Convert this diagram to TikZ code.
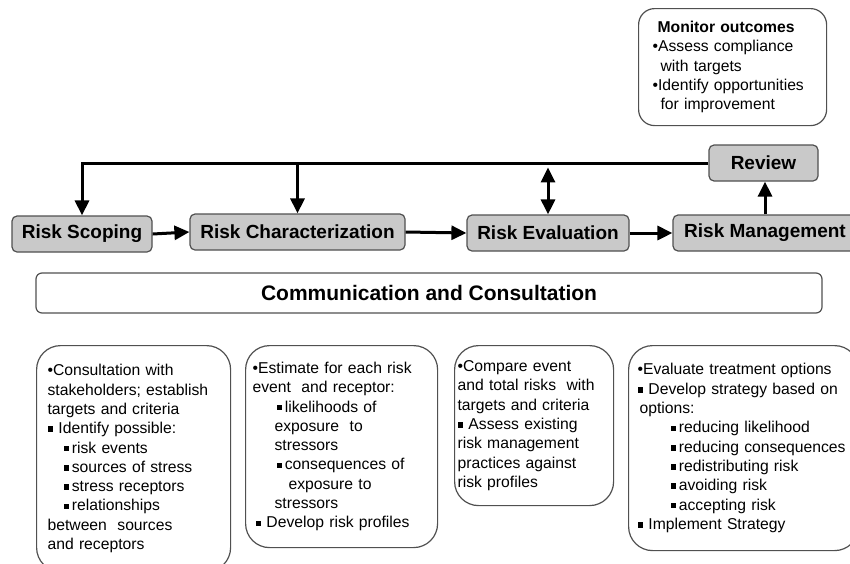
\documentclass[tikz,border=0pt]{standalone}
\usepackage{fontspec}
\setmainfont{Liberation Sans}
\usetikzlibrary{arrows.meta, positioning}
\tikzset{>={Triangle[length=15pt,width=14pt]}}
\definecolor{stagegray}{RGB}{201,201,201}
\definecolor{edgegray}{RGB}{80,80,80}
\newcommand{\sqb}{\raisebox{0.2ex}{\rule{0.36em}{0.36em}}}

\begin{document}
\begin{tikzpicture}[x=1pt, y=-1pt,
  stage/.style={draw=edgegray, line width=1.2pt, fill=stagegray, rounded corners=5pt, minimum height=36pt, inner sep=0pt, font=\fontsize{19}{22}\selectfont\bfseries},
  note/.style={draw=edgegray, line width=1.2pt, rounded corners=24pt, anchor=north west, align=left, inner ysep=0pt, font=\fontsize{15.7}{19.3}\selectfont},
  link/.style={line width=3pt}]
\useasboundingbox (0,0) rectangle (850,563);

\node[note, rounded corners=16pt, text width=160pt, inner xsep=14pt, minimum height=117pt] (monitor) at (638,8)
  {\hspace*{5pt}\textbf{Monitor outcomes}\\ \textbullet Assess compliance\\ \hspace*{8pt}with targets\\ \textbullet Identify opportunities\\ \hspace*{8pt}for improvement};

\node[stage, minimum width=109pt] (review) at (763.5,163) {Review};
\node[stage, minimum width=140pt] (scoping) at (82,234) {Risk Scoping};
\node[stage, minimum width=215pt] (char) at (297.5,232) {Risk Characterization};
\node[stage, minimum width=162pt] (eval) at (548,233) {Risk Evaluation};
\node[stage, minimum width=184pt] (mgmt) at (765,233) {Risk Management};

\node[draw=edgegray, line width=1.2pt, rounded corners=6pt, minimum width=786pt, minimum height=40pt, font=\fontsize{21}{24}\selectfont\bfseries] (comm) at (429,293) {Communication and Consultation};

\node[note, text width=172pt, inner xsep=11pt, minimum height=226pt] (scopenote) at (36,345)
  {\textbullet Consultation with\\ stakeholders; establish\\ targets and criteria\\ \sqb\ Identify possible:\\
   \hspace*{16pt}\sqb\,risk events\\ \hspace*{16pt}\sqb\,sources of stress\\ \hspace*{16pt}\sqb\,stress receptors\\ \hspace*{16pt}\sqb\,relationships\\
   between\ \ sources\\ and receptors};
\node[note, text width=178pt, inner xsep=7pt, minimum height=202pt] (charnote) at (245,345)
  {\textbullet Estimate for each risk\\ event\ \ and receptor:\\ \hspace*{24pt}\sqb\,likelihoods of\\ \hspace*{22pt}exposure\ \ to\\ \hspace*{22pt}stressors\\
   \hspace*{24pt}\sqb\,consequences of\\ \hspace*{36pt}exposure to\\ \hspace*{22pt}stressors\\ \hspace*{3pt}\sqb\ Develop risk profiles};
\node[note, text width=153pt, inner xsep=3pt, minimum height=160pt] (evalnote) at (454,345)
  {\textbullet Compare event\\ and total risks\ \ with\\ targets and criteria\\ \sqb\ Assess existing\\ risk management\\ practices against\\ risk profiles};
\node[note, text width=212pt, inner xsep=9pt, minimum height=205pt] (mgmtnote) at (628,345)
  {\textbullet Evaluate treatment options\\ \sqb\ Develop strategy based on\\ \hspace*{2pt}options:\\
   \hspace*{33pt}\sqb\,reducing likelihood\\ \hspace*{33pt}\sqb\,reducing consequences\\ \hspace*{33pt}\sqb\,redistributing risk\\ \hspace*{33pt}\sqb\,avoiding risk\\ \hspace*{33pt}\sqb\,accepting risk\\
   \sqb\ Implement Strategy};

\draw[link,->] (review.west) -| (scoping.north);
\draw[link,->] (char.north |- review.west) -- (char.north);
\draw[link,<->] ([yshift=47pt]eval.north) -- (eval.north);
\draw[link,->] (mgmt.north) -- (mgmt.north |- review.south);
\draw[link,->] (scoping.east) -- (char.west);
\draw[link,->] (char.east) -- (eval.west);
\draw[link,->] (eval.east) -- (mgmt.west);

\end{tikzpicture}
\end{document}
